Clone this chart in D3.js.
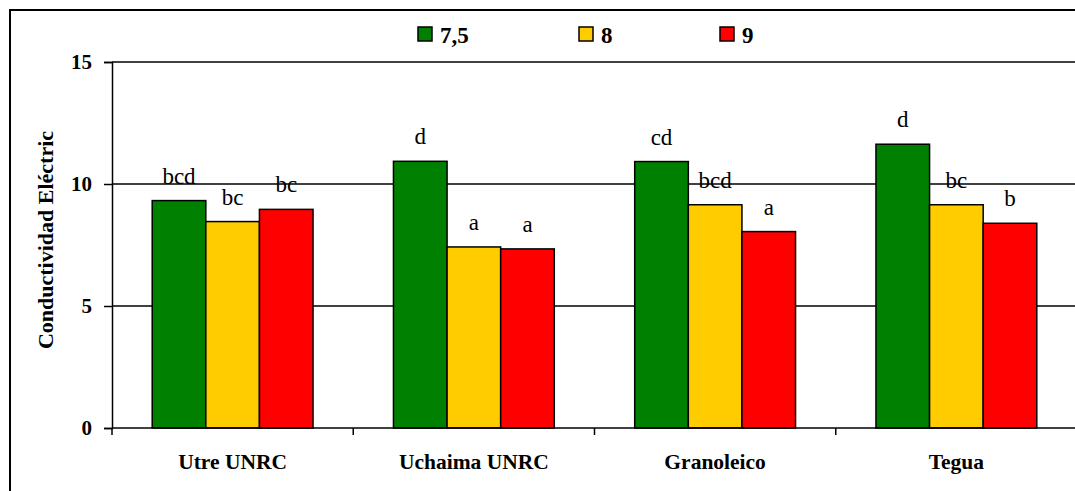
<!DOCTYPE html>
<html>
<head>
<meta charset="utf-8">
<script src="https://cdn.jsdelivr.net/npm/d3@7"></script>
<style>
  body { margin: 0; background: #fff; }
  svg { display: block; }
  svg text { font-family: "Liberation Serif", "Times New Roman", serif !important; }
</style>
</head>
<body>
<script>
const width = 1075;
const height = 491;

// data
const categories = ["Utre UNRC", "Uchaima UNRC", "Granoleico", "Tegua"];
const series = ["7,5", "8", "9"];
const colors = ["#008000", "#FFCC00", "#FF0000"];
const values75 = [9.32, 10.93, 10.92, 11.63];
const values8 = [8.46, 7.42, 9.15, 9.15];
const values9 = [8.96, 7.34, 8.05, 8.39];
const letters75 = ["bcd", "d", "cd", "d"];
const letters8 = ["bc", "a", "bcd", "bc"];
const letters9 = ["bc", "a", "a", "b"];
const yTicks = [0, 5, 10, 15];
const yTitle = "Conductividad Eléctric";

const allValues = [values75, values8, values9];
const allLetters = [letters75, letters8, letters9];

const plot = { left: 112, right: 1077, top: 62, bottom: 428 };

const svg = d3.select("body")
	.append("svg")
	.attr("width", width)
	.attr("height", height);

// outer frame (runs off the right and bottom edge like the reference)
svg.append("rect")
	.attr("x", 10)
	.attr("y", 10)
	.attr("width", width + 20)
	.attr("height", height + 20)
	.attr("fill", "none")
	.attr("stroke", "#000")
	.attr("stroke-width", 2);

const x0 = d3.scaleBand()
	.domain(categories)
	.range([plot.left, plot.right])
	.padding(0);

const x1 = d3.scaleBand()
	.domain(series)
	.range([0, x0.bandwidth()])
	.paddingInner(0)
	.paddingOuter(0.75);

const y = d3.scaleLinear()
	.domain([0, 15])
	.range([plot.bottom, plot.top]);

// gridlines
svg.append("g")
	.selectAll("line")
	.data(yTicks.filter(d => d > 0))
	.enter()
	.append("line")
	.attr("x1", plot.left)
	.attr("x2", plot.right)
	.attr("y1", d => y(d))
	.attr("y2", d => y(d))
	.attr("stroke", "#000")
	.attr("stroke-width", 1.5);

// y axis
const yAxis = d3.axisLeft(y)
	.tickValues(yTicks)
	.tickSize(8)
	.tickPadding(12)
	.tickFormat(d3.format("d"));

const gy = svg.append("g")
	.attr("transform", "translate(" + plot.left + ",0)")
	.call(yAxis);
gy.select(".domain").attr("stroke", "#000").attr("stroke-width", 1.5);
gy.selectAll(".tick line").attr("stroke", "#000").attr("stroke-width", 1.5);
gy.selectAll(".tick text")
	.attr("font-size", "21px")
	.attr("font-weight", "bold")
	.attr("fill", "#000");

// bars
const groups = svg.append("g")
	.selectAll("g")
	.data(categories)
	.enter()
	.append("g")
	.attr("transform", d => "translate(" + x0(d) + ",0)");

groups.selectAll("rect")
	.data((d, i) => series.map((s, j) => ({ s: s, v: allValues[j][i], c: colors[j] })))
	.enter()
	.append("rect")
	.attr("x", d => x1(d.s))
	.attr("y", d => y(d.v))
	.attr("width", x1.bandwidth())
	.attr("height", d => y(0) - y(d.v))
	.attr("fill", d => d.c)
	.attr("stroke", "#000")
	.attr("stroke-width", 1.5);

// significance letters
groups.selectAll("text")
	.data((d, i) => series.map((s, j) => ({ s: s, v: allValues[j][i], t: allLetters[j][i] })))
	.enter()
	.append("text")
	.attr("x", d => x1(d.s) + x1.bandwidth() / 2)
	.attr("y", d => y(d.v) - 17)
	.attr("text-anchor", "middle")
	.attr("font-size", "23px")
	.attr("fill", "#000")
	.text(d => d.t);

// x axis
svg.append("line")
	.attr("x1", plot.left)
	.attr("x2", plot.right)
	.attr("y1", plot.bottom)
	.attr("y2", plot.bottom)
	.attr("stroke", "#000")
	.attr("stroke-width", 1.5);

svg.append("g")
	.selectAll("line")
	.data(categories)
	.enter()
	.append("line")
	.attr("x1", d => x0(d))
	.attr("x2", d => x0(d))
	.attr("y1", plot.bottom)
	.attr("y2", plot.bottom + 7)
	.attr("stroke", "#000")
	.attr("stroke-width", 1.5);

svg.append("g")
	.selectAll("text")
	.data(categories)
	.enter()
	.append("text")
	.attr("x", d => x0(d) + x0.bandwidth() / 2)
	.attr("y", 469)
	.attr("text-anchor", "middle")
	.attr("font-size", "21.5px")
	.attr("font-weight", "bold")
	.text(d => d);

// y title
svg.append("text")
	.attr("transform", "translate(53,240) rotate(-90)")
	.attr("text-anchor", "middle")
	.attr("font-size", "22px")
	.attr("font-weight", "bold")
	.text(yTitle);

// legend
const legendX = [418, 579, 720];
const legend = svg.append("g")
	.selectAll("g")
	.data(series)
	.enter()
	.append("g")
	.attr("transform", (d, i) => "translate(" + legendX[i] + ",27)");

legend.append("rect")
	.attr("width", 14)
	.attr("height", 14)
	.attr("fill", (d, i) => colors[i])
	.attr("stroke", "#000")
	.attr("stroke-width", 1.5);

legend.append("text")
	.attr("x", 22)
	.attr("y", 16)
	.attr("font-size", "23px")
	.attr("font-weight", "bold")
	.text(d => d);
</script>
</body>
</html>
